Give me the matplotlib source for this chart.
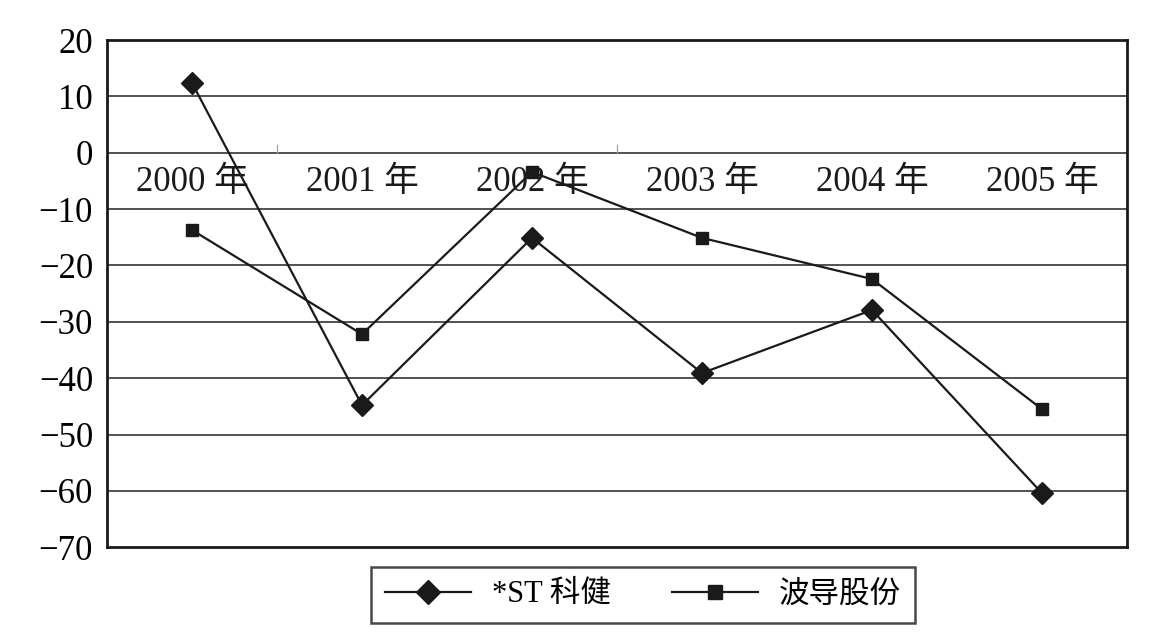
import matplotlib
matplotlib.use("Agg")
import matplotlib.pyplot as plt
import numpy as np

plt.rcParams['font.family'] = ['Liberation Serif', 'Noto Sans CJK SC', 'DejaVu Sans']

# Data
years = ['2000 年', '2001 年', '2002 年', '2003 年', '2004 年', '2005 年']
kejian = [12.4, -44.8, -15.1, -39.1, -27.9, -60.4]
bird = [-13.7, -32.2, -3.4, -15.1, -22.4, -45.5]
yticks = [20, 10, 0, -10, -20, -30, -40, -50, -60, -70]

fig = plt.figure(figsize=(11.63, 6.37), dpi=100)
ax = fig.add_axes([0.092, 0.141, 0.877, 0.796])

x = np.arange(len(years))
ax.plot(x, kejian, color='#1a1a1a', lw=1.6, marker='D', ms=11, label='*ST 科健')
ax.plot(x, bird, color='#1a1a1a', lw=1.6, marker='s', ms=9, label='波导股份')

ax.set_xlim(-0.5, len(years) - 0.5)
ax.set_ylim(-70, 20)
ax.set_yticks(yticks)
ax.set_yticklabels([str(v).replace('-', '\u2212') for v in yticks], fontsize=25)
ax.tick_params(axis='y', length=0, pad=10)
ax.set_xticks([])

for v in yticks[1:-1]:
    ax.axhline(v, color='#222222', lw=1.1, zorder=0)

# the two little ticks visible on the zero line
for b in [0.5, 2.5]:
    ax.plot([b, b], [0, 1.3], color='#999999', lw=0.8, zorder=0)

# category labels sit just under the zero line
for i, lab in enumerate(years):
    ax.text(i, -2.4, lab, ha='center', va='top', fontsize=25, color='#1a1a1a')

for s in ax.spines.values():
    s.set_linewidth(2)
    s.set_color('#1a1a1a')

leg = fig.legend(loc='center', bbox_to_anchor=(0.553, 0.066), ncol=2, fontsize=22,
                 frameon=True, fancybox=False, edgecolor='#1a1a1a',
                 handlelength=2.8, columnspacing=2.0, borderpad=0.45, handletextpad=0.7,
                 borderaxespad=0, markerscale=1.15)
leg.get_frame().set_linewidth(1.8)

fig.savefig('out.png', dpi=100)
